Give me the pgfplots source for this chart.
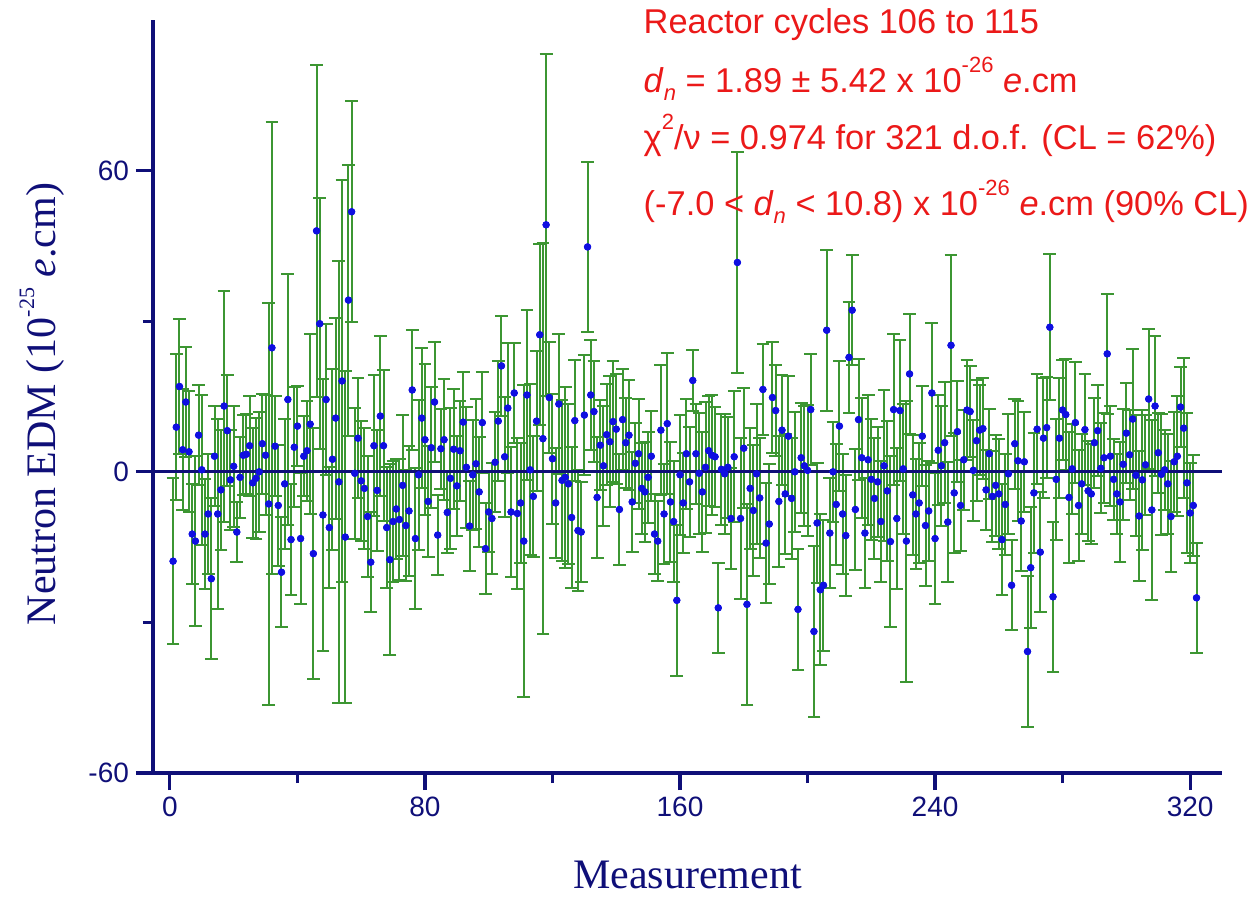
\documentclass[border=0pt]{standalone}
\usepackage{fontspec}
\setmainfont{Liberation Sans}
\newfontfamily\serif{Liberation Serif}
\usepackage{pgfplots}
\usepackage{pgfplotstable}
\pgfplotsset{compat=1.18}

\definecolor{navy}{RGB}{15,15,120}
\definecolor{barg}{RGB}{60,150,50}
\definecolor{dotb}{RGB}{15,15,225}
\definecolor{txtred}{RGB}{235,25,25}

% measurement, EDM value, error (10^-25 e.cm)
\pgfplotstableread[row sep=\\]{
x y e\\
1 -17.8 16.5\\ 2 8.9 14.6\\ 3 17.0 13.5\\ 4 4.4 12\\ 5 13.9 11\\ 6 4.0 12\\
7 -12.4 10\\ 8 -13.8 17\\ 9 7.3 10\\ 10 0.4 15\\ 11 -12.4 11\\ 12 -8.4 12\\
13 -21.3 16\\ 14 3.1 10\\ 15 -8.4 19\\ 16 -3.6 12\\ 17 13.1 23\\ 18 8.2 11\\
19 -1.6 10\\ 20 1.1 12\\ 21 -12.0 6\\ 22 -1.1 8\\ 23 3.3 8\\ 24 3.5 8\\
25 5.2 10\\ 26 -2.2 11\\ 27 -1.3 12\\ 28 0.0 12\\ 29 5.6 10\\ 30 3.3 12\\
31 -6.4 40\\ 32 24.7 45\\ 33 5.1 10\\ 34 -6.7 12\\ 35 -20.0 11\\ 36 -2.4 13\\
37 14.4 25\\ 38 -13.5 11\\ 39 4.9 12\\ 40 9.1 8\\ 41 -13.3 13\\ 42 3.1 8\\
43 4.2 10\\ 44 9.5 18\\ 45 -16.3 25\\ 46 48.0 33\\ 47 29.5 25\\ 48 -8.6 27\\
49 14.4 15\\ 50 -11.1 12\\ 51 2.5 18\\ 52 10.7 20\\ 53 -2.0 44\\ 54 18.1 40\\
55 -13.0 33\\ 56 34.2 27\\ 57 51.8 22\\ 58 -0.3 13\\ 59 6.7 12\\ 60 -1.8 12\\
61 -3.3 12\\ 62 -8.9 12\\ 63 -18.0 10\\ 64 5.2 14\\ 65 -3.7 12\\ 66 11.1 16\\
67 5.2 15\\ 68 -11.1 12\\ 69 -17.5 19\\ 70 -9.9 12\\ 71 -7.4 10\\ 72 -9.5 12\\
73 -2.7 14\\ 74 -10.7 11\\ 75 -7.8 13\\ 76 16.3 12\\ 77 -13.3 14\\ 78 -0.6 15\\
79 10.7 14\\ 80 6.4 15\\ 81 -5.9 11\\ 82 4.8 12\\ 83 13.9 12\\ 84 -12.6 8\\
85 4.6 8\\ 86 6.4 12\\ 87 -8.1 8\\ 88 -1.3 14\\ 89 4.5 12\\ 90 -2.8 10\\
91 4.2 10\\ 92 9.9 10\\ 93 0.9 12\\ 94 -10.8 9\\ 95 -0.6 11\\ 96 1.6 13\\
97 -4.0 11\\ 98 9.8 10\\ 99 -15.3 9\\ 100 -8.0 8\\ 101 -9.3 11\\ 102 1.9 10\\
103 10.1 12\\ 104 21.1 10\\ 105 3.0 12\\ 106 12.7 13\\ 107 -8.0 13\\ 108 15.7 10\\
109 -8.3 15\\ 110 -6.2 12\\ 111 -13.8 31\\ 112 15.3 17\\ 113 0.4 17\\ 114 -4.9 12\\
115 10.1 14\\ 116 27.3 18\\ 117 6.6 39\\ 118 49.2 34\\ 119 14.8 11\\ 120 2.6 13\\
121 -6.2 11\\ 122 13.5 14\\ 123 -1.7 16\\ 124 -1.1 18\\ 125 -2.4 16\\ 126 -9.1 14\\
127 10.2 12\\ 128 -11.7 12\\ 129 -12.0 10\\ 130 11.3 12\\ 131 44.8 17\\ 132 15.3 11\\
133 12.0 10\\ 134 -5.1 12\\ 135 5.3 9\\ 136 1.2 12\\ 137 7.4 10\\ 138 6.0 13\\
139 10.0 12\\ 140 8.5 11\\ 141 -7.5 11\\ 142 10.4 10\\ 143 5.8 9\\ 144 7.3 11\\
145 -6.0 10\\ 146 1.7 8\\ 147 3.6 11\\ 148 -3.3 9\\ 149 -4.0 10\\ 150 -1.1 9\\
151 3.1 9\\ 152 -12.4 8\\ 153 -13.8 8\\ 154 8.3 13\\ 155 -8.4 10\\ 156 9.6 14\\
157 -6.0 12\\ 158 -9.9 12\\ 159 -25.6 15\\ 160 -0.6 12\\ 161 -6.2 10\\ 162 3.6 11\\
163 -2.0 11\\ 164 18.2 6\\ 165 3.6 10\\ 166 -0.3 12\\ 167 -4.0 12\\ 168 0.9 13\\
169 4.2 11\\ 170 3.3 12\\ 171 3.0 10\\ 172 -27.1 9\\ 173 0.5 11\\ 174 -0.4 12\\
175 0.9 10\\ 176 -9.3 10\\ 177 3.0 13\\ 178 41.7 22\\ 179 -9.3 16\\ 180 4.7 12\\
181 -26.4 20\\ 182 -3.3 12\\ 183 -7.7 13\\ 184 -0.4 14\\ 185 -5.2 12\\ 186 16.4 9\\
187 -14.2 12\\ 188 -10.4 12\\ 189 14.8 11\\ 190 12.2 9\\ 191 -5.9 13\\ 192 8.3 11\\
193 -4.4 12\\ 194 7.1 12\\ 195 -5.3 12\\ 196 0.0 12\\ 197 -27.4 12\\ 198 2.8 11\\
199 1.2 12\\ 200 0.3 13\\ 201 12.4 11\\ 202 -31.8 17\\ 203 -10.2 12\\ 204 -23.5 15\\
205 -22.6 13\\ 206 28.2 16\\ 207 -12.2 11\\ 208 0.0 10\\ 209 -6.5 12\\ 210 9.1 13\\
211 -8.4 12\\ 212 -12.7 12\\ 213 22.8 11\\ 214 32.2 11\\ 215 -7.5 12\\ 216 10.4 12\\
217 2.8 12\\ 218 -12.2 11\\ 219 2.4 13\\ 220 -1.5 12\\ 221 -5.3 12\\ 222 -2.0 11\\
223 -9.9 12\\ 224 1.2 15\\ 225 -3.8 14\\ 226 -13.9 17\\ 227 12.4 15\\ 228 -9.3 14\\
229 12.2 14\\ 230 0.6 13\\ 231 -13.8 28\\ 232 19.5 12\\ 233 -4.6 12\\ 234 -8.4 11\\
235 -6.2 12\\ 236 7.1 10\\ 237 -10.7 12\\ 238 -7.8 10\\ 239 15.7 14\\ 240 -13.3 13\\
241 4.3 11\\ 242 1.2 12\\ 243 5.8 12\\ 244 -10.0 12\\ 245 25.2 18\\ 246 -4.2 12\\
247 8.0 10\\ 248 -6.7 9\\ 249 2.4 10\\ 250 12.3 10\\ 251 12.0 9\\ 252 0.3 10\\
253 6.2 12\\ 254 8.3 9\\ 255 8.6 10\\ 256 -3.6 8\\ 257 3.6 9\\ 258 -4.9 9\\
259 -2.7 10\\ 260 -4.4 11\\ 261 -13.5 11\\ 262 -6.5 10\\ 263 -0.4 12\\ 264 -22.6 9\\
265 5.6 9\\ 266 2.2 12\\ 267 -9.8 10\\ 268 2.0 10\\ 269 -35.8 15\\ 270 -19.1 12\\
271 -4.2 12\\ 272 8.5 11\\ 273 -16.0 12\\ 274 6.7 12\\ 275 8.8 10\\ 276 28.8 14.5\\
277 -24.9 15\\ 278 -1.5 12\\ 279 6.7 12\\ 280 12.3 10\\ 281 11.4 11\\ 282 -5.1 13\\
283 0.6 9\\ 284 9.8 12\\ 285 -6.7 11\\ 286 -2.4 10\\ 287 8.4 11\\ 288 -3.8 10\\
289 -4.4 10\\ 290 5.8 9\\ 291 8.2 9\\ 292 0.7 9\\ 293 2.8 9\\ 294 23.5 12\\
295 3.1 10\\ 296 -1.5 8\\ 297 -4.4 8\\ 298 -6.0 12\\ 299 1.5 11\\ 300 7.7 10\\
301 3.4 9\\ 302 10.5 14\\ 303 -0.7 12\\ 304 -8.8 13\\ 305 -1.6 14\\ 306 1.4 10\\
307 14.5 14\\ 308 -7.6 18\\ 309 13.1 14\\ 310 3.8 8\\ 311 -0.5 12\\ 312 0.4 8\\
313 -2.4 10\\ 314 -8.9 11\\ 315 2.0 10\\ 316 3.1 12\\ 317 12.9 8\\ 318 8.7 14\\
319 -2.2 14\\ 320 -8.2 10\\ 321 -6.7 10\\ 322 -25.1 11\\
}\edm

\newcommand\sub[1]{\raisebox{-0.45ex}{\fontsize{11}{11}\selectfont #1}}
\newcommand\sups[1]{\raisebox{1.1ex}{\fontsize{11}{11}\selectfont #1}}
\newcommand\dn{\textit{d}\sub{\textit{n}}}

\begin{document}
\begin{tikzpicture}
\begin{axis}[
  name=ax,
  scale only axis,
  width=534.5pt, height=376.5pt,
  xmin=-5.3, xmax=330, ymin=-60, ymax=90,
  axis x line*=bottom, axis y line*=left,
  axis line style={navy, line width=1.7pt},
  xtick={0,80,...,320}, minor xtick={40,120,200,280},
  ytick={-60,0,60}, minor ytick={-30,30},
  tick align=outside,
  major tick length=8.5pt, minor tick length=5pt,
  every tick/.style={navy, line width=1.6pt},
  tick label style={font=\fontsize{14}{14}\selectfont, text=navy},
  /pgf/number format/assume math mode=true,
  xlabel={\serif Measurement},
  ylabel={\serif Neutron EDM (10\sups{-25} \textit{e}.cm)},
  label style={font=\fontsize{21}{21}\selectfont, text=navy},
  xlabel style={at={(axis description cs:0.5,-0.135)}, anchor=center},
  ylabel style={at={(axis description cs:-0.104,0.49)}, anchor=center},
  clip=false,
]
% error bars with caps (dots redrawn on top of the zero line below)
\addplot[only marks, mark=*, mark size=1.6pt, mark options={draw=dotb, fill=dotb},
  error bars/.cd, y dir=both, y explicit,
  error mark=|,
  error bar style={barg, line width=1pt},
  error mark options={barg, mark size=3.2pt, line width=1pt}]
  table[x=x, y=y, y error=e] {\edm};
\addplot[navy, line width=1.5pt, mark=none] coordinates {(-5.3,0) (330,0)};
\addplot[only marks, mark=*, mark size=1.6pt, mark options={draw=dotb, fill=dotb}]
  table[x=x, y=y] {\edm};

\begin{scope}[every node/.style={anchor=west, text=txtred, font=\fontsize{17.2}{17.2}\selectfont, inner sep=0pt}]
\node at (axis cs:148.5,89.1) {Reactor cycles 106 to 115};
\node at (axis cs:148.5,78.3) {\dn{} = 1.89 ± 5.42 x 10\sups{-26} \textit{e}.cm};
\node at (axis cs:148.5,67.1) {χ\sups{2}/ν = 0.974 for 321 d.o.f. (CL = 62\%)};
\node at (axis cs:148.5,53.8) {(-7.0 < \dn{} < 10.8) x 10\sups{-26} \textit{e}.cm (90\% CL)};
\end{scope}
\end{axis}
\pgfresetboundingbox
\path ([xshift=-76.5pt,yshift=-64.5pt]ax.south west) rectangle ([xshift=15.5pt,yshift=10pt]ax.north east);
\end{tikzpicture}
\end{document}
